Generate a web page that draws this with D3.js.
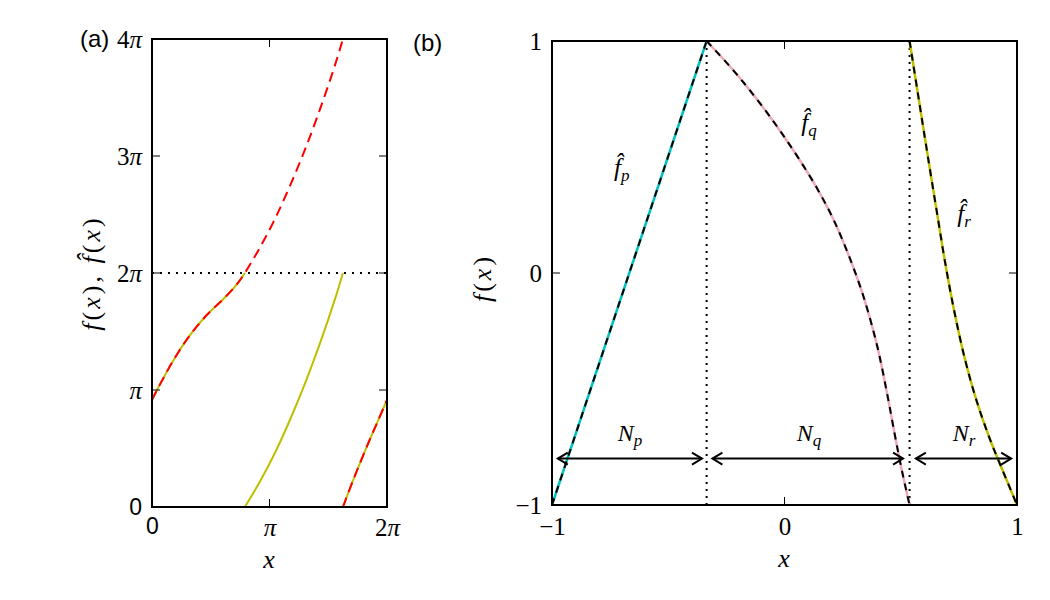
<!DOCTYPE html>
<html>
<head>
<meta charset="utf-8">
<script src="https://cdn.jsdelivr.net/npm/d3@7"></script>
<style>
    body { margin: 0; background: #fff; }
    svg { display: block; }
    .math { font-family: "Liberation Serif", "DejaVu Serif", serif; }
    .it { font-style: italic; }
</style>
</head>
<body>
<svg id="chart" width="1050" height="600"></svg>
<script>
// panel (a): x and f(x) in units of pi
const fX = [0, 0.04, 0.18, 0.32, 0.47, 0.61, 0.72, 0.79, 0.92, 1.05, 1.17, 1.30, 1.43, 1.56, 1.625, 1.72, 1.83, 1.92, 2.0];
const fY = [0.915, 0.995, 1.25, 1.465, 1.645, 1.78, 1.90, 2.0, 2.22, 2.47, 2.735, 3.05, 3.40, 3.785, 4.0, 4.25, 4.52, 4.73, 4.915];
const aYTicks = [0, 1, 2, 3, 4];
const aXTicks = [0, 1, 2];

// panel (b): three pieces
const pX = [-1, -0.335];
const pY = [-1, 1];
const qX = [-0.335, -0.222, -0.148, -0.075, -0.006, 0.066, 0.14, 0.209, 0.273, 0.338, 0.398, 0.441, 0.475, 0.505, 0.538];
const qY = [1, 0.876, 0.786, 0.691, 0.594, 0.486, 0.365, 0.234, 0.084, -0.096, -0.312, -0.518, -0.70, -0.852, -1];
const rX = [0.538, 0.578, 0.619, 0.661, 0.689, 0.729, 0.777, 0.825, 0.88, 0.932, 1];
const rY = [1, 0.746, 0.487, 0.228, 0.056, -0.159, -0.375, -0.547, -0.707, -0.836, -1];
const splits = [-0.335, 0.538];
const arrowFrom = [-0.975, -0.31, 0.565];
const arrowTo = [-0.355, 0.51, 0.975];
const arrowY = -0.8;
const nLabels = ['p', 'q', 'r'];
const nLabelX = [-0.665, 0.105, 0.772];
const hatLabels = ['p', 'q', 'r'];
const hatLabelX = [-0.7, 0.105, 0.772];
const hatLabelY = [0.418, 0.61, 0.22];
const bTicks = [-1, 0, 1];

const svg = d3.select('#chart');
const serifSize = 25;
const labelSize = 26;
const sans = '"Liberation Sans", Arial, sans-serif';

function piLabel(sel, v) {
    sel.text(null);
    if (v === 0) {
        sel.text('0');
        return;
    }
    if (v !== 1) sel.append('tspan').text(v);
    sel.append('tspan').attr('class', 'it').text('π');
}

// split a curve where it wraps around modulo period
function wrapSegments(xs, ys, period) {
    const segs = [];
    let cur = [];
    let k0 = Math.floor(ys[0] / period);
    cur.push([xs[0], ys[0] - k0 * period]);
    for (let i = 1; i < xs.length; i++) {
        const k1 = Math.floor(ys[i] / period);
        if (k1 !== k0) {
            const b = k1 * period;
            const t = (b - ys[i - 1]) / (ys[i] - ys[i - 1]);
            const xb = xs[i - 1] + t * (xs[i] - xs[i - 1]);
            cur.push([xb, period]);
            segs.push(cur);
            cur = [[xb, 0]];
            k0 = k1;
        }
        const p = [xs[i], ys[i] - k1 * period];
        if (p[0] !== cur[cur.length - 1][0]) cur.push(p);
    }
    segs.push(cur);
    return segs;
}

function frame(g, x0, x1, y0, y1) {
    g.append('rect')
        .attr('x', x0).attr('y', y0)
        .attr('width', x1 - x0).attr('height', y1 - y0)
        .attr('fill', 'none').attr('stroke', '#000').attr('stroke-width', 2);
}

function ticksInside(g, x, y, xt, yt) {
    const [x0, x1] = x.range();
    const [y0, y1] = y.range();
    xt.forEach(v => {
        g.append('line').attr('x1', x(v)).attr('x2', x(v)).attr('y1', y0).attr('y2', y0 - 8).attr('stroke', '#000');
        g.append('line').attr('x1', x(v)).attr('x2', x(v)).attr('y1', y1).attr('y2', y1 + 8).attr('stroke', '#000');
    });
    yt.forEach(v => {
        g.append('line').attr('x1', x0).attr('x2', x0 + 8).attr('y1', y(v)).attr('y2', y(v)).attr('stroke', '#000');
        g.append('line').attr('x1', x1).attr('x2', x1 - 8).attr('y1', y(v)).attr('y2', y(v)).attr('stroke', '#000');
    });
}

function mathLabel(g, tx, ty, parts) {
    const t = g.append('text')
        .attr('class', 'math')
        .attr('transform', `translate(${tx},${ty}) rotate(-90)`)
        .attr('text-anchor', 'middle')
        .attr('font-size', labelSize)
        .attr('letter-spacing', 3);
    parts.forEach(p => t.append('tspan').attr('class', p[1] ? 'it' : null).text(p[0]));
}

// ---------- panel (a) ----------
const ax = d3.scaleLinear().domain([0, 2]).range([152, 387]);
const ay = d3.scaleLinear().domain([0, 4]).range([507, 39]);
const ga = svg.append('g');
const lineA = d3.line().x(d => ax(d[0])).y(d => ay(d[1])).curve(d3.curveCatmullRom.alpha(0.5));

[2, 4].forEach(v => {
    ga.append('line')
        .attr('x1', ax(0)).attr('x2', ax(2)).attr('y1', ay(v)).attr('y2', ay(v))
        .attr('stroke', '#000').attr('stroke-width', 2).attr('stroke-dasharray', '2,6');
});

ga.selectAll('path.yel')
    .data(wrapSegments(fX, fY, 2))
    .enter().append('path')
    .attr('class', 'yel')
    .attr('d', lineA)
    .attr('fill', 'none').attr('stroke', '#bfbf00').attr('stroke-width', 2);

ga.selectAll('path.red')
    .data(wrapSegments(fX, fY, 4))
    .enter().append('path')
    .attr('class', 'red')
    .attr('d', lineA)
    .attr('fill', 'none').attr('stroke', '#ff0000').attr('stroke-width', 2)
    .attr('stroke-dasharray', '10,6');

frame(ga, 152, 387, 39, 507);
ticksInside(ga, ax, ay, aXTicks, aYTicks);

ga.append('g')
    .attr('transform', 'translate(0,507)')
    .call(d3.axisBottom(ax).tickValues(aXTicks).tickSize(0).tickPadding(11))
    .call(g => g.select('.domain').remove())
    .selectAll('text')
    .attr('class', 'math')
    .attr('font-size', serifSize)
    .attr('fill', '#000')
    .each(function (d) { piLabel(d3.select(this), d); });

ga.append('g')
    .attr('transform', 'translate(152,0)')
    .call(d3.axisLeft(ay).tickValues(aYTicks).tickSize(0).tickPadding(10))
    .call(g => g.select('.domain').remove())
    .selectAll('text')
    .attr('class', 'math')
    .attr('font-size', serifSize)
    .attr('fill', '#000')
    .each(function (d) { piLabel(d3.select(this), d); });

// the zero labels are in the plain sans font
ga.selectAll('.tick text').filter(d => d === 0)
    .attr('class', null)
    .attr('font-family', sans)
    .attr('font-size', 23);

ga.append('text')
    .attr('class', 'math it')
    .attr('x', 269).attr('y', 568)
    .attr('text-anchor', 'middle').attr('font-size', labelSize)
    .text('x');

mathLabel(ga, 100, 273, [['f', 1], ['(', 0], ['x', 1], ['), ', 0], ['f\u0302', 1], ['(', 0], ['x', 1], [')', 0]]);

svg.append('text')
    .attr('x', 80).attr('y', 47)
    .attr('font-family', sans)
    .attr('font-size', 24)
    .text('(a)');

// ---------- panel (b) ----------
const bx = d3.scaleLinear().domain([-1, 1]).range([552, 1017]);
const by = d3.scaleLinear().domain([-1, 1]).range([505, 41]);
const gb = svg.append('g');
const lineB = d3.line().x(d => bx(d[0])).y(d => by(d[1])).curve(d3.curveCatmullRom.alpha(0.5));

const pieces = [
    { xs: pX, ys: pY, color: '#00bfbf' },
    { xs: qX, ys: qY, color: '#eeaab8' },
    { xs: rX, ys: rY, color: '#bfbf00' }
];

gb.selectAll('line.split')
    .data(splits)
    .enter().append('line')
    .attr('class', 'split')
    .attr('x1', d => bx(d)).attr('x2', d => bx(d))
    .attr('y1', by(1)).attr('y2', by(-1))
    .attr('stroke', '#000').attr('stroke-width', 2).attr('stroke-dasharray', '2,5');

pieces.forEach(p => {
    const pts = p.xs.map((x, i) => [x, p.ys[i]]);
    gb.append('path')
        .attr('d', lineB(pts))
        .attr('fill', 'none').attr('stroke', p.color).attr('stroke-width', 2.5);
    gb.append('path')
        .attr('d', lineB(pts))
        .attr('fill', 'none').attr('stroke', '#000').attr('stroke-width', 2)
        .attr('stroke-dasharray', '7,6');
});

// double headed arrows
arrowFrom.forEach((x0, i) => {
    const xa = bx(x0), xb = bx(arrowTo[i]), yy = by(arrowY);
    const g = gb.append('g').attr('stroke', '#000').attr('stroke-width', 2).attr('fill', 'none');
    g.append('line').attr('x1', xa).attr('x2', xb).attr('y1', yy).attr('y2', yy);
    g.append('path').attr('d', `M${xa + 10},${yy - 6}L${xa},${yy}L${xa + 10},${yy + 6}`);
    g.append('path').attr('d', `M${xb - 10},${yy - 6}L${xb},${yy}L${xb - 10},${yy + 6}`);
});

nLabels.forEach((s, i) => {
    const t = gb.append('text')
        .attr('class', 'math')
        .attr('x', bx(nLabelX[i])).attr('y', by(-0.725))
        .attr('text-anchor', 'middle').attr('font-size', 24);
    t.append('tspan').attr('class', 'it').text('N');
    t.append('tspan').attr('class', 'it').attr('font-size', 17).attr('dy', 5).text(s);
});

hatLabels.forEach((s, i) => {
    const t = gb.append('text')
        .attr('class', 'math')
        .attr('x', bx(hatLabelX[i])).attr('y', by(hatLabelY[i]))
        .attr('text-anchor', 'middle').attr('font-size', 25);
    t.append('tspan').attr('class', 'it').text('f\u0302');
    t.append('tspan').attr('class', 'it').attr('font-size', 17).attr('dy', 5).text(s);
});

frame(gb, 552, 1017, 41, 505);
ticksInside(gb, bx, by, bTicks, bTicks);

gb.append('g')
    .attr('transform', 'translate(0,505)')
    .call(d3.axisBottom(bx).tickValues(bTicks).tickSize(0).tickPadding(12).tickFormat(d => d < 0 ? '\u2212' + (-d) : d))
    .call(g => g.select('.domain').remove())
    .selectAll('text')
    .attr('class', 'math').attr('font-size', serifSize).attr('fill', '#000');

gb.append('g')
    .attr('transform', 'translate(552,0)')
    .call(d3.axisLeft(by).tickValues(bTicks).tickSize(0).tickPadding(10).tickFormat(d => d < 0 ? '\u2212' + (-d) : d))
    .call(g => g.select('.domain').remove())
    .selectAll('text')
    .attr('class', 'math').attr('font-size', serifSize).attr('fill', '#000');

gb.append('text')
    .attr('class', 'math it')
    .attr('x', 784).attr('y', 567)
    .attr('text-anchor', 'middle').attr('font-size', labelSize)
    .text('x');

mathLabel(gb, 491, 278, [['f', 1], ['(', 0], ['x', 1], [')', 0]]);

svg.append('text')
    .attr('x', 413).attr('y', 51)
    .attr('font-family', sans)
    .attr('font-size', 24)
    .text('(b)');
</script>
</body>
</html>
